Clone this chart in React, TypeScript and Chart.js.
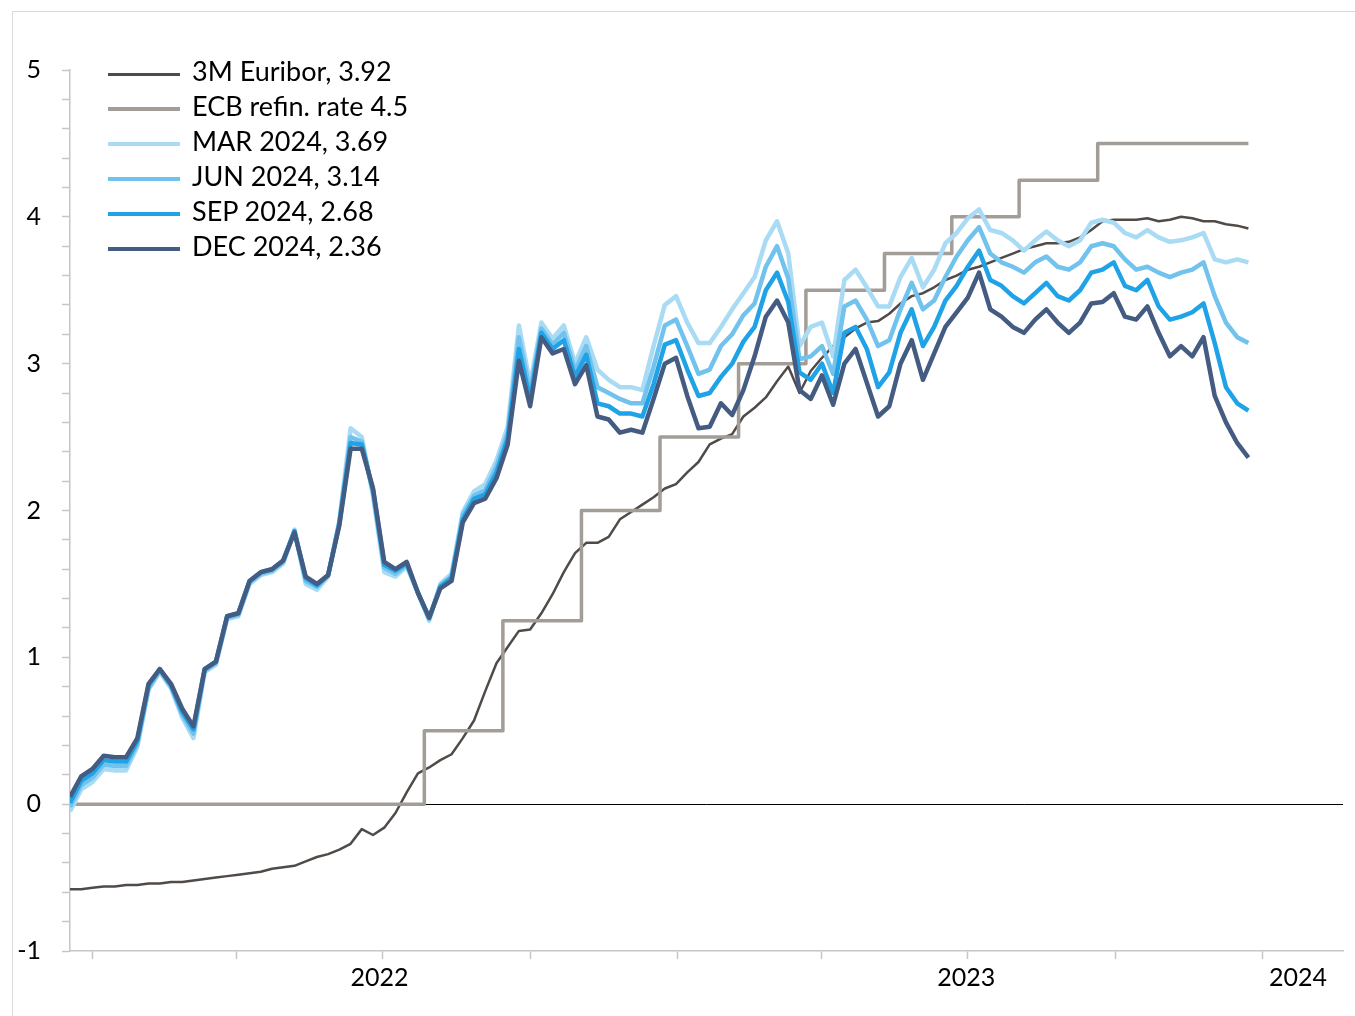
import React, { useEffect, useRef } from 'react';
import { Chart, registerables } from 'chart.js';

Chart.register(...registerables);

// ---------- data ----------
const EPOCH = '2022-01-01';
const START_DATE = '2021-12-18'; // first weekly observation
const STEP_DAYS = 7;
const X_MIN_DATE = '2021-12-18';
const X_MAX_DATE = '2024-02-20';

const SERIES_LABELS = [
  '3M Euribor, 3.92',
  'ECB refin. rate 4.5',
  'MAR 2024, 3.69',
  'JUN 2024, 3.14',
  'SEP 2024, 2.68',
  'DEC 2024, 2.36',
];

const EURIBOR_3M = [
  -0.58, -0.58, -0.57, -0.56, -0.56, -0.55, -0.55, -0.54, -0.54, -0.53,
  -0.53, -0.52, -0.51, -0.5, -0.49, -0.48, -0.47, -0.46, -0.44, -0.43,
  -0.42, -0.39, -0.36, -0.34, -0.31, -0.27, -0.17, -0.21, -0.16, -0.06,
  0.08, 0.21, 0.25, 0.3, 0.34, 0.45, 0.57, 0.77, 0.96, 1.07,
  1.18, 1.19, 1.3, 1.43, 1.58, 1.71, 1.78, 1.78, 1.82, 1.94,
  1.99, 2.04, 2.09, 2.15, 2.18, 2.26, 2.33, 2.45, 2.49, 2.52,
  2.64, 2.7, 2.77, 2.88, 2.98, 2.8, 2.95, 3.04, 3.12, 3.18,
  3.24, 3.28, 3.29, 3.34, 3.41, 3.46, 3.48, 3.52, 3.57, 3.6,
  3.64, 3.66, 3.69, 3.72, 3.75, 3.78, 3.8, 3.82, 3.82, 3.83,
  3.86, 3.91, 3.97, 3.98, 3.98, 3.98, 3.99, 3.97, 3.98, 4.0,
  3.99, 3.97, 3.97, 3.95, 3.94, 3.92,
];

const MAR_2024 = [
  -0.05, 0.1, 0.15, 0.24, 0.23, 0.23, 0.39, 0.78, 0.9, 0.79,
  0.59, 0.45, 0.9, 0.95, 1.26, 1.28, 1.5, 1.56, 1.58, 1.64,
  1.87, 1.5, 1.46, 1.55, 1.93, 2.56, 2.5, 2.1, 1.58, 1.55,
  1.62, 1.44, 1.25, 1.5, 1.57, 1.99, 2.13, 2.18, 2.34, 2.57,
  3.26, 2.86, 3.28, 3.17, 3.26, 3.0, 3.18, 2.96, 2.89, 2.84,
  2.84, 2.82, 3.12, 3.4, 3.46, 3.28, 3.14, 3.14, 3.25, 3.37,
  3.48, 3.59, 3.84, 3.97, 3.75, 3.12, 3.25, 3.28, 3.05, 3.57,
  3.64, 3.52, 3.39, 3.39, 3.59, 3.72, 3.52, 3.64, 3.82, 3.89,
  3.99, 4.05, 3.91, 3.89, 3.84, 3.77, 3.84, 3.9, 3.84, 3.8,
  3.84, 3.96, 3.98, 3.96, 3.89, 3.86, 3.91, 3.86, 3.83, 3.84,
  3.86, 3.89, 3.71, 3.69, 3.71, 3.69,
];

const JUN_2024 = [
  -0.02, 0.13, 0.18, 0.27, 0.26, 0.26, 0.41, 0.79, 0.91, 0.8,
  0.61, 0.48, 0.91, 0.96, 1.27, 1.29, 1.51, 1.57, 1.59, 1.65,
  1.86, 1.52, 1.48, 1.56, 1.92, 2.5, 2.47, 2.12, 1.61, 1.57,
  1.63, 1.44, 1.26, 1.49, 1.55, 1.97, 2.1, 2.14, 2.3, 2.53,
  3.18, 2.81, 3.24, 3.13, 3.21, 2.95, 3.12, 2.84, 2.8, 2.76,
  2.73, 2.73, 2.98, 3.26, 3.3, 3.12, 2.93, 2.96, 3.12, 3.2,
  3.33, 3.41, 3.66, 3.8, 3.58, 3.03, 3.05, 3.12, 2.93, 3.39,
  3.43, 3.3, 3.12, 3.16, 3.37, 3.55, 3.37, 3.43, 3.59, 3.73,
  3.84, 3.93, 3.75, 3.69, 3.66, 3.62, 3.69, 3.73, 3.66, 3.64,
  3.69, 3.8, 3.82, 3.8, 3.71, 3.64, 3.66, 3.62, 3.59, 3.62,
  3.64, 3.69, 3.46, 3.28, 3.18, 3.14,
];

const SEP_2024 = [
  0.01, 0.16, 0.21, 0.3, 0.29, 0.29, 0.43, 0.81, 0.92, 0.81,
  0.63, 0.51, 0.92, 0.97, 1.28, 1.3, 1.52, 1.58, 1.6, 1.66,
  1.86, 1.54, 1.49, 1.56, 1.91, 2.46, 2.45, 2.14, 1.63, 1.59,
  1.64, 1.44, 1.27, 1.48, 1.54, 1.94, 2.08, 2.11, 2.26, 2.49,
  3.1, 2.76, 3.21, 3.1, 3.16, 2.91, 3.06, 2.73, 2.71, 2.66,
  2.66, 2.64, 2.86, 3.13, 3.16, 2.96, 2.78, 2.8, 2.91, 3.0,
  3.15, 3.25, 3.5, 3.62, 3.42, 2.94, 2.89, 3.0, 2.8, 3.21,
  3.25, 3.1, 2.84, 2.94, 3.21, 3.37, 3.12, 3.25, 3.43, 3.53,
  3.66, 3.77, 3.57, 3.53, 3.46, 3.41, 3.48, 3.55, 3.46, 3.43,
  3.5, 3.62, 3.64, 3.69, 3.53, 3.5, 3.57, 3.39, 3.3, 3.32,
  3.35, 3.41, 3.14, 2.84, 2.73, 2.68,
];

const DEC_2024 = [
  0.05, 0.19, 0.24, 0.33, 0.32, 0.32, 0.45, 0.82, 0.92, 0.82,
  0.65, 0.53, 0.92, 0.97, 1.28, 1.3, 1.52, 1.58, 1.6, 1.66,
  1.85, 1.55, 1.5, 1.56, 1.9, 2.42, 2.42, 2.15, 1.65, 1.6,
  1.65, 1.44, 1.27, 1.47, 1.52, 1.92, 2.05, 2.08, 2.22, 2.45,
  3.02, 2.71, 3.18, 3.07, 3.1, 2.86, 2.99, 2.64, 2.62, 2.53,
  2.55, 2.53, 2.76, 3.0, 3.04, 2.78, 2.56, 2.57, 2.73, 2.65,
  2.82, 3.05, 3.32, 3.43, 3.28, 2.82, 2.76, 2.92, 2.72, 3.0,
  3.1, 2.87, 2.64, 2.71, 3.0, 3.16, 2.89, 3.07, 3.25, 3.35,
  3.45, 3.62, 3.37, 3.32, 3.25, 3.21, 3.3, 3.37, 3.28, 3.21,
  3.28, 3.41, 3.42, 3.48, 3.32, 3.3, 3.39, 3.21, 3.05, 3.12,
  3.05, 3.18, 2.78, 2.6, 2.46, 2.36,
];

const ECB_DATES = [
  '2021-12-18', '2022-07-27', '2022-09-14', '2022-11-02', '2022-12-21', '2023-02-08',
  '2023-03-22', '2023-05-10', '2023-06-21', '2023-08-02', '2023-09-20', '2023-12-23',
];
const ECB_RATES = [0, 0.5, 1.25, 2, 2.5, 3, 3.5, 3.75, 4, 4.25, 4.5, 4.5];

const QUARTER_TICKS = [
  '2022-01-01', '2022-04-01', '2022-07-01', '2022-10-01',
  '2023-01-01', '2023-04-01', '2023-07-01', '2023-10-01', '2024-01-01',
];
const YEAR_LABELS = ['2022', '2023', '2024'];
const YEAR_LABEL_DATES = ['2022-06-29', '2023-06-30', '2024-01-23'];

const Y_MIN = -1;
const Y_MAX = 5;
const Y_STEP = 0.2;

// ---------- styles ----------
const COLORS = ['#514b47', '#a39d98', '#a9dbf5', '#72c2ee', '#1fa2e6', '#445b82'];
const LINE_WIDTHS = [2.5, 3.5, 4.5, 4.5, 4.5, 4.5];
const SWATCH_HEIGHTS = [3, 4, 4.5, 4.5, 4.5, 4.5];
const FONT_FAMILY = 'Lato, "Open Sans", sans-serif';
const AXIS_GREY = '#c6c6c6';

const W = 1355;
const H = 1016;

const dayNum = (iso: string) => {
  const [y, m, d] = iso.split('-').map(Number);
  const [ey, em, ed] = EPOCH.split('-').map(Number);
  return (Date.UTC(y, m - 1, d) - Date.UTC(ey, em - 1, ed)) / 86400000;
};

const framePlugin = {
  id: 'frame',
  beforeDraw(chart: any) {
    const ctx = chart.ctx;
    ctx.save();
    ctx.strokeStyle = '#d9d9d9';
    ctx.lineWidth = 1;
    ctx.beginPath();
    ctx.moveTo(12.5, H + 5);
    ctx.lineTo(12.5, 11.5);
    ctx.lineTo(W + 5, 11.5);
    ctx.stroke();
    ctx.restore();
  },
};

export default function App() {
  const canvasRef = useRef<HTMLCanvasElement | null>(null);

  useEffect(() => {
    const canvas = canvasRef.current;
    if (!canvas) return;

    const startDay = dayNum(START_DATE);
    const weekDays = DEC_2024.map((_, i) => startDay + STEP_DAYS * i);
    const toPoints = (vals: number[]) => vals.map((v, i) => ({ x: weekDays[i], y: v }));
    const ecbPoints = ECB_DATES.map((d, i) => ({ x: dayNum(d), y: ECB_RATES[i] }));

    const quarterDays = QUARTER_TICKS.map(dayNum);
    const labelDays = YEAR_LABEL_DATES.map(dayNum);
    const labelMap = new Map<number, string>();
    labelDays.forEach((d, i) => labelMap.set(d, YEAR_LABELS[i]));

    const seriesValues = [EURIBOR_3M, null, MAR_2024, JUN_2024, SEP_2024, DEC_2024];

    const datasets = SERIES_LABELS.map((label, i) => ({
      label,
      data: i === 1 ? ecbPoints : toPoints(seriesValues[i] as number[]),
      borderColor: COLORS[i],
      backgroundColor: COLORS[i],
      borderWidth: LINE_WIDTHS[i],
      stepped: i === 1 ? 'before' : false,
      order: 5 - i,
      pointRadius: 0,
      tension: 0,
      fill: false,
      borderJoinStyle: 'round',
      borderCapStyle: 'butt',
    }));

    const chart = new Chart(canvas, {
      type: 'line',
      data: { datasets: datasets as any },
      options: {
        responsive: false,
        animation: false,
        events: [],
        layout: { padding: { top: 70, right: 12, bottom: 0, left: 0 } },
        plugins: {
          legend: { display: false },
          tooltip: { enabled: false },
        },
        scales: {
          x: {
            type: 'linear',
            bounds: 'data',
            min: dayNum(X_MIN_DATE),
            max: dayNum(X_MAX_DATE),
            afterFit: (s: any) => {
              s.height = H - 951;
            },
            afterBuildTicks: (s: any) => {
              s.ticks = [...quarterDays, ...labelDays].map((v) => ({ value: v }));
            },
            ticks: {
              autoSkip: false,
              maxRotation: 0,
              minRotation: 0,
              padding: 4,
              color: '#000',
              font: { family: FONT_FAMILY, size: 25 },
              callback: (v: any) => labelMap.get(v) ?? '',
            },
            grid: {
              drawOnChartArea: false,
              tickLength: 8,
              tickWidth: 1.5,
              tickColor: (ctx: any) =>
                ctx.tick && labelMap.has(ctx.tick.value) ? 'rgba(0,0,0,0)' : AXIS_GREY,
            },
            border: { color: AXIS_GREY, width: 1.5 },
          },
          y: {
            type: 'linear',
            min: Y_MIN,
            max: Y_MAX,
            afterFit: (s: any) => {
              s.width = 70;
            },
            ticks: {
              stepSize: Y_STEP,
              autoSkip: false,
              padding: 21,
              color: '#000',
              font: { family: FONT_FAMILY, size: 25 },
              callback: (v: any) => {
                const n = Number(v);
                return Math.abs(n - Math.round(n)) < 1e-6 ? String(Math.round(n)) : '';
              },
            },
            grid: {
              drawOnChartArea: true,
              lineWidth: 1,
              color: (ctx: any) =>
                ctx.tick && Math.abs(ctx.tick.value) < 1e-6 ? '#000000' : 'rgba(0,0,0,0)',
              tickColor: AXIS_GREY,
              tickLength: 8,
              tickWidth: 1.5,
            },
            border: { color: AXIS_GREY, width: 1.5 },
          },
        },
      },
      plugins: [framePlugin],
    } as any);

    return () => chart.destroy();
  }, []);

  const rowTop = 74;
  const rowGap = 35;

  return (
    <div
      style={{
        position: 'absolute',
        left: 0,
        top: 0,
        width: W,
        height: H,
        overflow: 'hidden',
        background: '#fff',
      }}
    >
      <canvas ref={canvasRef} width={W} height={H} style={{ display: 'block', width: W, height: H }} />
      {SERIES_LABELS.map((label, i) => {
        const cy = rowTop + rowGap * i;
        return (
          <div key={label} style={{ position: 'absolute', left: 0, top: cy - 15, height: 30, width: 500 }}>
            <div
              style={{
                position: 'absolute',
                left: 108,
                top: 15 - SWATCH_HEIGHTS[i] / 2,
                width: 72,
                height: SWATCH_HEIGHTS[i],
                background: COLORS[i],
              }}
            />
            <div
              style={{
                position: 'absolute',
                left: 192,
                top: -3.5,
                lineHeight: '30px',
                fontFamily: FONT_FAMILY,
                fontSize: 27,
                color: '#000',
                whiteSpace: 'nowrap',
              }}
            >
              {label}
            </div>
          </div>
        );
      })}
    </div>
  );
}
